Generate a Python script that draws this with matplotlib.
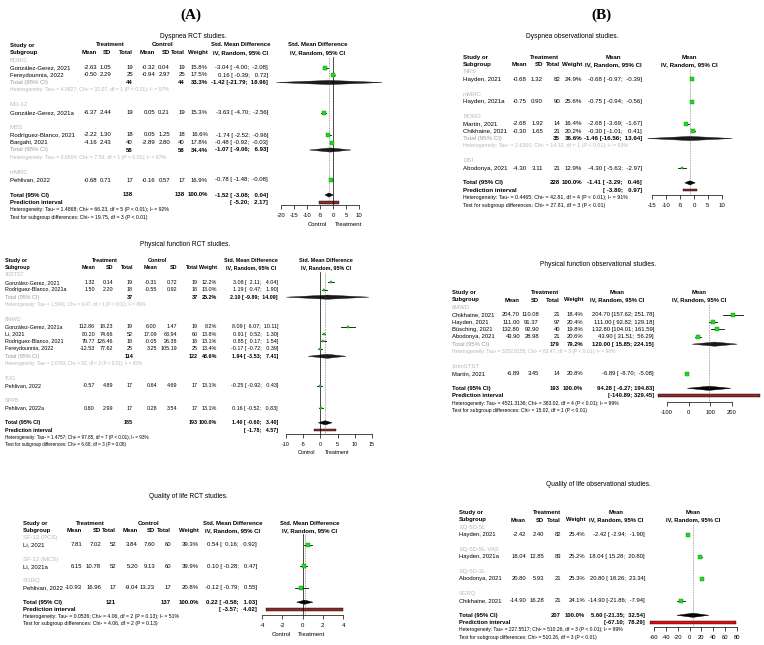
import numpy as np
import matplotlib
matplotlib.use('Agg')
import matplotlib.pyplot as plt
from matplotlib.patches import Polygon, Rectangle

plt.rcParams['font.family'] = ['Liberation Sans', 'DejaVu Sans']

W, H = 764, 645
GREY = '#9a9a9a'
LGREY = '#b8b8b8'

# ---------------- (A) Dyspnea RCT studies ----------------
a1_group = ['BORG', 'BORG', 'MD-12', 'MBS', 'MBS', 'mMRC']
a1_study = ['González-Gerez, 2021', 'Fereydounnia, 2022', 'González-Gerez, 2021a',
            'Rodríguez-Blanco, 2021', 'Bargahi, 2021', 'Pehlivan, 2022']
a1_t_mean = [-2.63, -0.50, -6.37, -2.22, -4.16, -0.68]
a1_t_sd = [1.05, 2.29, 2.44, 1.30, 2.43, 0.71]
a1_t_n = [19, 25, 19, 18, 40, 17]
a1_c_mean = [-0.32, -0.94, 0.05, 0.05, -2.89, -0.16]
a1_c_sd = [0.04, 2.97, 0.21, 1.25, 2.80, 0.57]
a1_c_n = [19, 25, 19, 18, 40, 17]
a1_weight = [15.8, 17.5, 15.3, 16.6, 17.8, 16.9]
a1_est = [-3.04, 0.16, -3.63, -1.74, -0.48, -0.78]
a1_lo = [-4.00, -0.39, -4.70, -2.52, -0.92, -1.48]
a1_hi = [-2.08, 0.72, -2.56, -0.96, -0.03, -0.08]
a1_sub = ['BORG', 'MBS']
a1_sub_t_n = [44, 58]
a1_sub_c_n = [44, 58]
a1_sub_w = [33.3, 34.4]
a1_sub_est = [-1.42, -1.07]
a1_sub_lo = [-21.79, -9.06]
a1_sub_hi = [18.96, 6.93]
a1_sub_het = ['Heterogeneity: Tau² = 4.9827; Chi² = 32.07, df = 1 (P < 0.01); I² = 97%',
              'Heterogeneity: Tau² = 0.6904; Chi² = 7.59, df = 1 (P < 0.01); I² = 87%']
a1_total = [138, 138, 100.0, -1.52, -3.08, 0.04]
a1_pred = [-5.20, 2.17]
a1_het = 'Heterogeneity: Tau² = 1.4868; Chi² = 66.23, df = 5 (P < 0.01); I² = 92%'
a1_test = 'Test for subgroup differences: Chi² = 19.75, df = 3 (P < 0.01)'

# ---------------- (A) Physical function RCT studies ----------------
a2_group = ['30STST', '30STST', '6MWD', '6MWD', '6MWD', '6MWD', 'TUG', 'SPPB']
a2_study = ['González-Gerez, 2021', 'Rodríguez-Blanco, 2021a', 'González-Gerez, 2021a',
            'Li, 2021', 'Rodríguez-Blanco, 2021', 'Fereydounnia, 2022',
            'Pehlivan, 2022', 'Pehlivan, 2022a']
a2_t_mean = [1.32, 1.50, 112.86, 80.20, 79.77, -12.53, -0.57, 0.80]
a2_t_sd = [0.14, 2.20, 18.23, 74.66, 126.46, 77.62, 4.89, 2.99]
a2_t_n = [19, 18, 19, 52, 18, 25, 17, 17]
a2_c_mean = [-0.31, -0.55, 6.00, 17.09, -0.05, 3.25, 0.64, 0.28]
a2_c_sd = [0.72, 0.92, 1.47, 63.94, 26.38, 105.19, 4.69, 3.54]
a2_c_n = [19, 18, 19, 60, 18, 25, 17, 17]
a2_weight = [12.2, 13.0, 8.2, 13.8, 13.1, 13.4, 13.1, 13.1]
a2_est = [3.08, 1.19, 8.09, 0.91, 0.85, -0.17, -0.25, 0.16]
a2_lo = [2.11, 0.47, 6.07, 0.52, 0.17, -0.72, -0.92, -0.52]
a2_hi = [4.04, 1.90, 10.11, 1.30, 1.54, 0.39, 0.43, 0.83]
a2_sub = ['30STST', '6MWD']
a2_sub_t_n = [37, 114]
a2_sub_c_n = [37, 122]
a2_sub_w = [25.2, 48.6]
a2_sub_est = [2.10, 1.94]
a2_sub_lo = [-9.89, -3.53]
a2_sub_hi = [14.09, 7.41]
a2_sub_het = ['Heterogeneity: Tau² = 1.5941; Chi² = 9.47, df = 1 (P < 0.01); I² = 89%',
              'Heterogeneity: Tau² = 2.0760; Chi² = 62, df = 3 (P < 0.01); I² = 95%']
a2_total = [185, 193, 100.0, 1.40, -0.60, 3.40]
a2_pred = [-1.78, 4.57]
a2_het = 'Heterogeneity: Tau² = 1.4757; Chi² = 97.85, df = 7 (P < 0.01); I² = 93%'
a2_test = 'Test for subgroup differences: Chi² = 6.68, df = 3 (P = 0.08)'

# ---------------- (A) Quality of life RCT studies ----------------
a3_group = ['SF-12 (PCS)', 'SF-12 (MCS)', 'SGRQ']
a3_study = ['Li, 2021', 'Li, 2021a', 'Pehlivan, 2022']
a3_t_mean = [7.81, 6.15, -10.93]
a3_t_sd = [7.02, 10.78, 16.96]
a3_t_n = [52, 52, 17]
a3_c_mean = [3.84, 5.20, -9.04]
a3_c_sd = [7.60, 9.13, 13.23]
a3_c_n = [60, 60, 17]
a3_weight = [39.3, 39.9, 20.8]
a3_est = [0.54, 0.10, -0.12]
a3_lo = [0.16, -0.28, -0.79]
a3_hi = [0.92, 0.47, 0.55]
a3_total = [121, 137, 100.0, 0.22, -0.58, 1.03]
a3_pred = [-3.57, 4.02]
a3_het = 'Heterogeneity: Tau² = 0.0536; Chi² = 4.06, df = 2 (P = 0.13); I² = 51%'
a3_test = 'Test for subgroup differences: Chi² = 4.06, df = 2 (P = 0.13)'

# ---------------- (B) Dyspnea observational studies ----------------
b1_group = ['NRS', 'mMRC', 'BORG', 'BORG', 'DSI']
b1_study = ['Hayden, 2021', 'Hayden, 2021a', 'Martín, 2021', 'Chikhaine, 2021', 'Abodonya, 2021']
b1_mean = [-0.68, -0.75, -2.68, -0.30, -4.30]
b1_sd = [1.32, 0.90, 1.92, 1.65, 3.11]
b1_n = [82, 90, 14, 21, 21]
b1_weight = [24.9, 25.6, 16.4, 20.2, 12.9]
b1_est = [-0.68, -0.75, -2.68, -0.30, -4.30]
b1_lo = [-0.97, -0.94, -3.69, -1.01, -5.63]
b1_hi = [-0.39, -0.56, -1.67, 0.41, -2.97]
b1_sub = ['BORG']
b1_sub_n = [35]
b1_sub_w = [36.6]
b1_sub_est = [-1.46]
b1_sub_lo = [-16.56]
b1_sub_hi = [13.64]
b1_sub_het = ['Heterogeneity: Tau² = 2.6300; Chi² = 14.32, df = 1 (P < 0.01); I² = 93%']
b1_total = [228, 100.0, -1.41, -3.29, 0.46]
b1_pred = [-3.80, 0.97]
b1_het = 'Heterogeneity: Tau² = 0.4465; Chi² = 42.81, df = 4 (P < 0.01); I² = 91%'
b1_test = 'Test for subgroup differences: Chi² = 27.81, df = 3 (P < 0.01)'

# ---------------- (B) Physical function observational studies ----------------
b2_group = ['6MWD', '6MWD', '6MWD', '6MWD', '1minSTST']
b2_study = ['Chikhaine, 2021', 'Hayden, 2021', 'Büsching, 2021', 'Abodonya, 2021', 'Martín, 2021']
b2_mean = [204.70, 111.00, 132.80, 43.90, -6.89]
b2_sd = [110.08, 91.37, 92.90, 28.98, 3.45]
b2_n = [21, 97, 40, 21, 14]
b2_weight = [18.4, 20.4, 19.8, 20.6, 20.8]
b2_est = [204.70, 111.00, 132.80, 43.90, -6.89]
b2_lo = [157.62, 92.82, 104.01, 31.51, -8.70]
b2_hi = [251.78, 129.18, 161.59, 56.29, -5.08]
b2_sub = ['6MWD']
b2_sub_n = [179]
b2_sub_w = [79.2]
b2_sub_est = [120.00]
b2_sub_lo = [15.85]
b2_sub_hi = [224.15]
b2_sub_het = ['Heterogeneity: Tau² = 3252.8155; Chi² = 83.47, df = 3 (P < 0.01); I² = 96%']
b2_total = [193, 100.0, 94.28, -6.27, 194.83]
b2_pred = [-140.89, 329.45]
b2_het = 'Heterogeneity: Tau² = 4521.3136; Chi² = 383.02, df = 4 (P < 0.01); I² = 99%'
b2_test = 'Test for subgroup differences: Chi² = 15.02, df = 1 (P < 0.01)'

# ---------------- (B) Quality of life observational studies ----------------
b3_group = ['EQ-5D-5L', 'EQ-5D-5L-VAS', 'EQ-5D-3L', 'SGRQ']
b3_study = ['Hayden, 2021', 'Hayden, 2021a', 'Abodonya, 2021', 'Chikhaine, 2021']
b3_mean = [-2.42, 18.04, 20.80, -14.90]
b3_sd = [2.40, 12.85, 5.93, 16.28]
b3_n = [82, 83, 21, 21]
b3_weight = [25.4, 25.2, 25.3, 24.1]
b3_est = [-2.42, 18.04, 20.80, -14.90]
b3_lo = [-2.94, 15.28, 18.26, -21.86]
b3_hi = [-1.90, 20.80, 23.34, -7.94]
b3_total = [207, 100.0, 5.60, -21.35, 32.54]
b3_pred = [-67.10, 78.29]
b3_het = 'Heterogeneity: Tau² = 227.5517; Chi² = 510.26, df = 3 (P < 0.01); I² = 99%'
b3_test = 'Test for subgroup differences: Chi² = 510.26, df = 3 (P < 0.01)'


fig = plt.figure(figsize=(W / 100, H / 100), dpi=100)
bg = fig.add_axes([0, 0, 1, 1])
bg.set_xlim(0, W)
bg.set_ylim(H, 0)
bg.axis('off')


def ci_str(e, lo, hi):
    return f'{e:.2f} [{lo:6.2f}; {hi:6.2f}]'


def draw_panel(d, L):
    two = 'c_mean' in d
    c = L['cols']
    fs = L['fs']
    yr = lambda r: L['row0'] + r * L['dy']

    def txt(x, y, s, ha='left', bold=False, color='k', small=False):
        bg.text(x, y, s, ha=ha, va='center', fontsize=fs * 0.86 if small else fs,
                color=color, fontweight='bold' if bold else 'normal')

    bg.text(L['title_xy'][0], L['title_xy'][1], L['title'], ha='center', va='center',
            fontsize=4.8)

    # header
    y1, y2 = yr(-1), yr(0)
    txt(L['x_study'], y1, 'Study or', bold=True)
    txt(L['x_study'], y2, 'Subgroup', bold=True)
    txt(L['trt_cx'], y1, 'Treatment', ha='center', bold=True)
    txt(c['tm'], y2, 'Mean', ha='right', bold=True)
    txt(c['tsd'], y2, 'SD', ha='right', bold=True)
    txt(c['tn'], y2, 'Total', ha='right', bold=True)
    if two:
        txt(L['ctl_cx'], y1, 'Control', ha='center', bold=True)
        txt(c['cm'], y2, 'Mean', ha='right', bold=True)
        txt(c['csd'], y2, 'SD', ha='right', bold=True)
        txt(c['cn'], y2, 'Total', ha='right', bold=True)
    txt(c['w'], y2, 'Weight', ha='right', bold=True)
    txt(L['ci_cx'], y1, L['eff'], ha='center', bold=True)
    txt(L['ci_cx'], y2, 'IV, Random, 95% CI', ha='center', bold=True)
    txt(L['f_cx'], y1, L['eff'], ha='center', bold=True)
    txt(L['f_cx'], y2, 'IV, Random, 95% CI', ha='center', bold=True)

    # forest axes, y measured in pixel rows
    ticks = L['ticks']
    x0, x1 = L['tick_px']
    top = yr(0.55)
    fa = fig.add_axes([x0 / W, 1 - L['axis_y'] / H, (x1 - x0) / W, (L['axis_y'] - top) / H])
    fa.set_xlim(ticks[0], ticks[-1])
    fa.set_ylim(L['axis_y'], top)
    fa.patch.set_alpha(0)
    for s in ['top', 'left', 'right']:
        fa.spines[s].set_visible(False)
    fa.spines['bottom'].set_linewidth(0.5)
    fa.set_yticks([])
    fa.set_xticks(ticks)
    fa.set_xticklabels([f'{t:g}' for t in ticks])
    fa.tick_params(axis='x', labelsize=fs, length=3, width=0.5, pad=2.5)

    tot = d['total']
    if two:
        fa.axvline(0, color='k', lw=0.5)
    fa.axvline(tot[-3], color='#555555', lw=0.5, ls=(0, (1, 1.4)))

    def diamond(e, lo, hi, y, col):
        fa.add_patch(Polygon([(lo, y), (e, y - 2.1), (hi, y), (e, y + 2.1)],
                             closed=True, fc=col, ec=col, lw=0.3, clip_on=False))

    r = 1
    for g in list(dict.fromkeys(d['group'])):
        txt(L['x_study'], yr(r), g, color=LGREY)
        r += 1
        for i in [k for k, gg in enumerate(d['group']) if gg == g]:
            y = yr(r)
            txt(L['x_study'], y, d['study'][i])
            txt(c['tm'], y, f"{d['t_mean'][i]:.2f}", ha='right')
            txt(c['tsd'], y, f"{d['t_sd'][i]:.2f}", ha='right')
            txt(c['tn'], y, f"{d['t_n'][i]}", ha='right')
            if two:
                txt(c['cm'], y, f"{d['c_mean'][i]:.2f}", ha='right')
                txt(c['csd'], y, f"{d['c_sd'][i]:.2f}", ha='right')
                txt(c['cn'], y, f"{d['c_n'][i]}", ha='right')
            txt(c['w'], y, f"{d['weight'][i]:.1f}%", ha='right')
            txt(c['ci'], y, ci_str(d['est'][i], d['lo'][i], d['hi'][i]), ha='right')
            fa.plot([d['lo'][i], d['hi'][i]], [y, y], color='k', lw=0.6, clip_on=False)
            side = 3.0 * np.sqrt(d['weight'][i] / 15.0)
            fa.plot(d['est'][i], y, marker='s', ms=side * 0.72, mfc='#22d822',
                    mec='#0e8e0e', mew=0.3, clip_on=False, zorder=3)
            r += 1
        if g in d.get('sub', []):
            j = d['sub'].index(g)
            y = yr(r)
            txt(L['x_study'], y, 'Total (95% CI)', color=GREY)
            txt(c['tn'], y, f"{d['sub_t_n'][j]}", ha='right', bold=True)
            if two:
                txt(c['cn'], y, f"{d['sub_c_n'][j]}", ha='right', bold=True)
            txt(c['w'], y, f"{d['sub_w'][j]:.1f}%", ha='right', bold=True)
            txt(c['ci'], y, ci_str(d['sub_est'][j], d['sub_lo'][j], d['sub_hi'][j]),
                ha='right', bold=True)
            diamond(d['sub_est'][j], d['sub_lo'][j], d['sub_hi'][j], y, '#1a1a1a')
            r += 1
            txt(L['x_study'], yr(r), d['sub_het'][j], color=LGREY, small=True)
            r += 1
        r += 1

    # overall rows
    y = yr(r)
    txt(L['x_study'], y, 'Total (95% CI)', bold=True)
    txt(c['tn'], y, f'{tot[0]}', ha='right', bold=True)
    if two:
        txt(c['cn'], y, f'{tot[1]}', ha='right', bold=True)
    txt(c['w'], y, f'{tot[-4]:.1f}%', ha='right', bold=True)
    txt(c['ci'], y, ci_str(tot[-3], tot[-2], tot[-1]), ha='right', bold=True)
    diamond(tot[-3], tot[-2], tot[-1], y, 'k')
    y = yr(r + 1)
    pl, ph = d['pred']
    txt(L['x_study'], y, 'Prediction interval', bold=True)
    txt(c['ci'], y, f'[{pl:6.2f}; {ph:6.2f}]', ha='right', bold=True)
    fa.add_patch(Rectangle((pl, y - 1.2), ph - pl, 2.4, fc=L['pred_col'], ec='k',
                           lw=0.3, clip_on=False))
    txt(L['x_study'], yr(r + 2), d['het'], small=True)
    txt(L['x_study'], yr(r + 3), d['test'], small=True)

    if two:
        txt(L['ctl_xy'][0], L['ctl_xy'][1], 'Control', ha='center')
        txt(L['trt_xy'][0], L['trt_xy'][1], 'Treatment', ha='center')


panel_a1 = dict(group=a1_group, study=a1_study, t_mean=a1_t_mean, t_sd=a1_t_sd, t_n=a1_t_n,
                c_mean=a1_c_mean, c_sd=a1_c_sd, c_n=a1_c_n, weight=a1_weight,
                est=a1_est, lo=a1_lo, hi=a1_hi, sub=a1_sub, sub_t_n=a1_sub_t_n,
                sub_c_n=a1_sub_c_n, sub_w=a1_sub_w, sub_est=a1_sub_est, sub_lo=a1_sub_lo,
                sub_hi=a1_sub_hi, sub_het=a1_sub_het, total=a1_total, pred=a1_pred,
                het=a1_het, test=a1_test)
panel_a2 = dict(group=a2_group, study=a2_study, t_mean=a2_t_mean, t_sd=a2_t_sd, t_n=a2_t_n,
                c_mean=a2_c_mean, c_sd=a2_c_sd, c_n=a2_c_n, weight=a2_weight,
                est=a2_est, lo=a2_lo, hi=a2_hi, sub=a2_sub, sub_t_n=a2_sub_t_n,
                sub_c_n=a2_sub_c_n, sub_w=a2_sub_w, sub_est=a2_sub_est, sub_lo=a2_sub_lo,
                sub_hi=a2_sub_hi, sub_het=a2_sub_het, total=a2_total, pred=a2_pred,
                het=a2_het, test=a2_test)
panel_a3 = dict(group=a3_group, study=a3_study, t_mean=a3_t_mean, t_sd=a3_t_sd, t_n=a3_t_n,
                c_mean=a3_c_mean, c_sd=a3_c_sd, c_n=a3_c_n, weight=a3_weight,
                est=a3_est, lo=a3_lo, hi=a3_hi, total=a3_total, pred=a3_pred,
                het=a3_het, test=a3_test)
panel_b1 = dict(group=b1_group, study=b1_study, t_mean=b1_mean, t_sd=b1_sd, t_n=b1_n,
                weight=b1_weight, est=b1_est, lo=b1_lo, hi=b1_hi, sub=b1_sub,
                sub_t_n=b1_sub_n, sub_w=b1_sub_w, sub_est=b1_sub_est, sub_lo=b1_sub_lo,
                sub_hi=b1_sub_hi, sub_het=b1_sub_het, total=b1_total, pred=b1_pred,
                het=b1_het, test=b1_test)
panel_b2 = dict(group=b2_group, study=b2_study, t_mean=b2_mean, t_sd=b2_sd, t_n=b2_n,
                weight=b2_weight, est=b2_est, lo=b2_lo, hi=b2_hi, sub=b2_sub,
                sub_t_n=b2_sub_n, sub_w=b2_sub_w, sub_est=b2_sub_est, sub_lo=b2_sub_lo,
                sub_hi=b2_sub_hi, sub_het=b2_sub_het, total=b2_total, pred=b2_pred,
                het=b2_het, test=b2_test)
panel_b3 = dict(group=b3_group, study=b3_study, t_mean=b3_mean, t_sd=b3_sd, t_n=b3_n,
                weight=b3_weight, est=b3_est, lo=b3_lo, hi=b3_hi, total=b3_total,
                pred=b3_pred, het=b3_het, test=b3_test)

SMD = 'Std. Mean Difference'
draw_panel(panel_a1, dict(
    title='Dyspnea RCT studies.', title_xy=(193, 37), row0=52.5, dy=7.5, x_study=10, fs=4.3,
    cols=dict(tm=97, tsd=111, tn=133, cm=155, csd=170, cn=185, w=208, ci=268),
    trt_cx=110, ctl_cx=163, ci_cx=241, f_cx=318, eff=SMD,
    ticks=np.arange(-20, 11, 5), tick_px=(281, 359), axis_y=205,
    ctl_xy=(317, 224), trt_xy=(349, 224), pred_col='#8e2a2a'))
draw_panel(panel_a2, dict(
    title='Physical function RCT studies.', title_xy=(185, 245), row0=267.6, dy=7.39,
    x_study=5, fs=3.9,
    cols=dict(tm=95, tsd=113, tn=133, cm=157, csd=177, cn=198, w=217, ci=278),
    trt_cx=105, ctl_cx=157, ci_cx=251, f_cx=326, eff=SMD,
    ticks=np.arange(-10, 16, 5), tick_px=(286, 372), axis_y=434,
    ctl_xy=(307, 453), trt_xy=(337, 453), pred_col='#8e2a2a'))
draw_panel(panel_a3, dict(
    title='Quality of life RCT studies.', title_xy=(188, 497), row0=530.5, dy=7.17,
    x_study=23, fs=4.3,
    cols=dict(tm=82, tsd=101, tn=116, cm=138, csd=155, cn=171, w=199, ci=257),
    trt_cx=90, ctl_cx=149, ci_cx=233, f_cx=310, eff=SMD,
    ticks=np.arange(-4, 5, 2), tick_px=(262, 343), axis_y=615,
    ctl_xy=(281, 635), trt_xy=(312, 635), pred_col='#8e2a2a'))
draw_panel(panel_b1, dict(
    title='Dyspnea observational studies.', title_xy=(572, 37), row0=64.6, dy=7.39,
    x_study=463, fs=4.4,
    cols=dict(tm=527, tsd=543, tn=560, w=582, ci=642),
    trt_cx=545, ci_cx=613, f_cx=689, eff='Mean',
    ticks=np.arange(-15, 11, 5), tick_px=(652, 722), axis_y=195, pred_col='#8e2a2a'))
draw_panel(panel_b2, dict(
    title='Physical function observational studies.', title_xy=(598, 265), row0=300,
    dy=7.36, x_study=452, fs=4.2,
    cols=dict(tm=520, tsd=539, tn=560, w=583, ci=654),
    trt_cx=545, ci_cx=617, f_cx=699, eff='Mean',
    ticks=np.arange(-100, 201, 100), tick_px=(667, 732), axis_y=402, pred_col='#8e2a2a'))
draw_panel(panel_b3, dict(
    title='Quality of life observational studies.', title_xy=(598, 485), row0=520,
    dy=7.33, x_study=459, fs=4.2,
    cols=dict(tm=526, tsd=544, tn=561, w=585, ci=645),
    trt_cx=547, ci_cx=616, f_cx=693, eff='Mean',
    ticks=np.arange(-60, 81, 20), tick_px=(654, 737), axis_y=627, pred_col='#e01010'))

bg.text(191, 15, '(A)', ha='center', va='center', fontsize=11, fontweight='bold',
        family='Liberation Serif')
bg.text(601, 15, '(B)', ha='center', va='center', fontsize=11, fontweight='bold',
        family='Liberation Serif')

fig.savefig('out.png', dpi=100)
